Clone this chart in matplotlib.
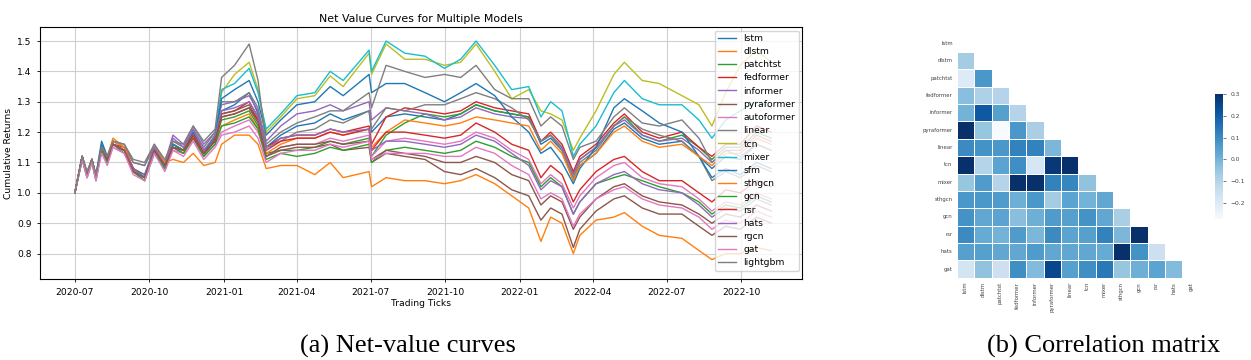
import numpy as np
import pandas as pd
import matplotlib
matplotlib.use("Agg")
import matplotlib.pyplot as plt
import matplotlib.dates as mdates
import seaborn as sns

# sample dates
dates = ['2020-07-01', '2020-07-10', '2020-07-16', '2020-07-22', '2020-07-27', '2020-08-03',
         '2020-08-10', '2020-08-17', '2020-08-31', '2020-09-11', '2020-09-25', '2020-10-07',
         '2020-10-20', '2020-10-30', '2020-11-12', '2020-11-24', '2020-12-07', '2020-12-21',
         '2020-12-29', '2021-01-14', '2021-02-01', '2021-02-12', '2021-02-22', '2021-03-12',
         '2021-04-01', '2021-04-23', '2021-05-12', '2021-05-28', '2021-06-29', '2021-07-02',
         '2021-07-20', '2021-08-12', '2021-09-06', '2021-09-30', '2021-10-20', '2021-11-08',
         '2021-12-01', '2021-12-22', '2022-01-12', '2022-01-27', '2022-02-08', '2022-02-22',
         '2022-03-08', '2022-03-16', '2022-04-05', '2022-04-27', '2022-05-10', '2022-06-01',
         '2022-06-22', '2022-07-20', '2022-08-10', '2022-08-26', '2022-09-12', '2022-09-30',
         '2022-10-20', '2022-11-07']

lstm = [1.00, 1.12, 1.06, 1.11, 1.05, 1.16, 1.11, 1.16, 1.14, 1.08, 1.05, 1.14, 1.08, 1.15, 1.13, 1.19, 1.12, 1.18,
        1.27, 1.29, 1.33, 1.26, 1.15, 1.19, 1.22, 1.23, 1.26, 1.24, 1.27, 1.20, 1.25, 1.26, 1.25, 1.24, 1.26, 1.29,
        1.27, 1.26, 1.25, 1.16, 1.18, 1.14, 1.04, 1.09, 1.13, 1.21, 1.23, 1.18, 1.16, 1.17, 1.12, 1.08, 1.12, 1.11, 1.16, 1.14]
dlstm = [1.00, 1.12, 1.06, 1.11, 1.05, 1.15, 1.12, 1.18, 1.15, 1.08, 1.05, 1.14, 1.10, 1.11, 1.10, 1.13, 1.09, 1.10,
         1.16, 1.19, 1.19, 1.16, 1.08, 1.09, 1.09, 1.06, 1.10, 1.05, 1.07, 1.02, 1.05, 1.04, 1.04, 1.03, 1.04, 1.06,
         1.03, 0.99, 0.95, 0.84, 0.92, 0.90, 0.80, 0.86, 0.91, 0.92, 0.935, 0.89, 0.86, 0.85, 0.81, 0.78, 0.80, 0.80, 0.82, 0.81]
patchtst = [1.00, 1.11, 1.06, 1.11, 1.05, 1.15, 1.11, 1.16, 1.14, 1.08, 1.05, 1.14, 1.09, 1.15, 1.13, 1.19, 1.13, 1.17,
            1.24, 1.25, 1.27, 1.22, 1.13, 1.14, 1.14, 1.15, 1.17, 1.16, 1.18, 1.12, 1.19, 1.23, 1.26, 1.25, 1.26, 1.29,
            1.27, 1.26, 1.25, 1.17, 1.19, 1.15, 1.06, 1.11, 1.15, 1.22, 1.25, 1.19, 1.17, 1.19, 1.15, 1.11, 1.15, 1.15, 1.20, 1.18]
fedformer = [1.00, 1.12, 1.06, 1.11, 1.05, 1.15, 1.11, 1.16, 1.15, 1.08, 1.05, 1.14, 1.09, 1.16, 1.14, 1.20, 1.14, 1.18,
             1.26, 1.27, 1.30, 1.25, 1.15, 1.18, 1.19, 1.19, 1.21, 1.20, 1.22, 1.16, 1.25, 1.28, 1.27, 1.26, 1.27, 1.30,
             1.28, 1.27, 1.26, 1.17, 1.20, 1.16, 1.07, 1.12, 1.16, 1.23, 1.26, 1.20, 1.18, 1.20, 1.15, 1.12, 1.16, 1.16, 1.22, 1.20]
informer = [1.00, 1.12, 1.06, 1.11, 1.05, 1.14, 1.11, 1.17, 1.15, 1.10, 1.09, 1.16, 1.10, 1.19, 1.16, 1.22, 1.16, 1.20,
            1.29, 1.30, 1.32, 1.27, 1.17, 1.22, 1.26, 1.27, 1.29, 1.27, 1.30, 1.24, 1.28, 1.27, 1.26, 1.24, 1.25, 1.28,
            1.26, 1.25, 1.245, 1.17, 1.19, 1.15, 1.06, 1.11, 1.15, 1.22, 1.24, 1.19, 1.17, 1.18, 1.14, 1.10, 1.14, 1.14, 1.19, 1.17]
pyraformer = [1.00, 1.12, 1.06, 1.11, 1.05, 1.15, 1.11, 1.16, 1.14, 1.07, 1.05, 1.14, 1.09, 1.16, 1.14, 1.19, 1.14, 1.18,
              1.26, 1.27, 1.29, 1.24, 1.12, 1.14, 1.15, 1.15, 1.16, 1.14, 1.15, 1.10, 1.13, 1.12, 1.11, 1.07, 1.06, 1.08,
              1.05, 1.01, 0.99, 0.91, 0.95, 0.93, 0.82, 0.88, 0.94, 0.98, 0.99, 0.95, 0.93, 0.93, 0.89, 0.86, 0.89, 0.88, 0.92, 0.90]
autoformer = [1.00, 1.11, 1.05, 1.10, 1.04, 1.14, 1.10, 1.15, 1.13, 1.07, 1.04, 1.13, 1.08, 1.14, 1.13, 1.18, 1.12, 1.16,
              1.20, 1.22, 1.24, 1.20, 1.12, 1.15, 1.16, 1.16, 1.18, 1.17, 1.19, 1.12, 1.17, 1.18, 1.17, 1.16, 1.17, 1.20,
              1.18, 1.14, 1.11, 1.03, 1.06, 1.03, 0.95, 0.99, 1.05, 1.09, 1.10, 1.05, 1.03, 1.02, 0.98, 0.94, 0.97, 0.96, 1.00, 0.98]
linear = [1.00, 1.12, 1.07, 1.11, 1.06, 1.15, 1.12, 1.17, 1.16, 1.10, 1.09, 1.15, 1.10, 1.17, 1.15, 1.21, 1.15, 1.20,
          1.30, 1.30, 1.33, 1.28, 1.15, 1.17, 1.20, 1.21, 1.24, 1.23, 1.27, 1.21, 1.28, 1.27, 1.29, 1.29, 1.31, 1.33,
          1.31, 1.28, 1.24, 1.17, 1.19, 1.14, 1.05, 1.10, 1.14, 1.22, 1.25, 1.21, 1.19, 1.17, 1.12, 1.04, 1.07, 1.05, 1.09, 1.07]
tcn = [1.00, 1.11, 1.05, 1.10, 1.04, 1.15, 1.10, 1.16, 1.14, 1.07, 1.05, 1.14, 1.08, 1.16, 1.14, 1.20, 1.13, 1.19,
       1.33, 1.39, 1.43, 1.34, 1.20, 1.25, 1.31, 1.32, 1.385, 1.35, 1.46, 1.39, 1.49, 1.44, 1.44, 1.42, 1.43, 1.49,
       1.40, 1.31, 1.34, 1.27, 1.26, 1.24, 1.14, 1.18, 1.27, 1.39, 1.43, 1.37, 1.36, 1.32, 1.29, 1.22, 1.33, 1.42, 1.47, 1.43]
mixer = [1.00, 1.11, 1.05, 1.10, 1.04, 1.15, 1.10, 1.16, 1.14, 1.07, 1.04, 1.14, 1.08, 1.16, 1.14, 1.20, 1.13, 1.19,
         1.34, 1.36, 1.41, 1.33, 1.21, 1.26, 1.32, 1.33, 1.40, 1.37, 1.47, 1.40, 1.50, 1.46, 1.45, 1.41, 1.44, 1.50,
         1.42, 1.34, 1.35, 1.25, 1.30, 1.27, 1.12, 1.16, 1.22, 1.33, 1.37, 1.31, 1.29, 1.29, 1.24, 1.18, 1.24, 1.27, 1.30, 1.28]
sfm = [1.00, 1.12, 1.06, 1.11, 1.06, 1.17, 1.12, 1.16, 1.14, 1.08, 1.06, 1.15, 1.09, 1.16, 1.14, 1.20, 1.13, 1.19,
       1.31, 1.34, 1.37, 1.30, 1.19, 1.24, 1.29, 1.30, 1.35, 1.32, 1.39, 1.33, 1.36, 1.36, 1.33, 1.30, 1.33, 1.36,
       1.32, 1.25, 1.20, 1.13, 1.15, 1.10, 1.03, 1.08, 1.15, 1.28, 1.31, 1.27, 1.23, 1.20, 1.12, 1.05, 1.08, 1.06, 1.10, 1.08]
sthgcn = [1.00, 1.12, 1.06, 1.11, 1.05, 1.15, 1.11, 1.17, 1.15, 1.08, 1.05, 1.15, 1.10, 1.15, 1.14, 1.19, 1.13, 1.17,
          1.22, 1.24, 1.26, 1.21, 1.13, 1.16, 1.18, 1.18, 1.20, 1.19, 1.21, 1.15, 1.20, 1.24, 1.23, 1.22, 1.23, 1.25,
          1.24, 1.23, 1.22, 1.14, 1.17, 1.13, 1.04, 1.09, 1.13, 1.20, 1.22, 1.17, 1.15, 1.16, 1.12, 1.09, 1.13, 1.13, 1.18, 1.16]
gcn = [1.00, 1.11, 1.06, 1.10, 1.05, 1.14, 1.10, 1.16, 1.13, 1.07, 1.04, 1.13, 1.08, 1.15, 1.13, 1.18, 1.12, 1.16,
       1.22, 1.23, 1.25, 1.21, 1.11, 1.13, 1.12, 1.13, 1.15, 1.14, 1.16, 1.10, 1.14, 1.15, 1.14, 1.13, 1.14, 1.17,
       1.15, 1.12, 1.10, 1.02, 1.05, 1.02, 0.93, 0.97, 1.03, 1.05, 1.06, 1.04, 1.02, 1.00, 0.97, 0.93, 0.96, 0.95, 0.99, 0.97]
rsr = [1.00, 1.12, 1.06, 1.11, 1.05, 1.15, 1.11, 1.16, 1.14, 1.08, 1.05, 1.14, 1.09, 1.15, 1.14, 1.19, 1.13, 1.17,
       1.25, 1.26, 1.28, 1.24, 1.14, 1.17, 1.18, 1.18, 1.20, 1.19, 1.21, 1.14, 1.20, 1.20, 1.19, 1.18, 1.19, 1.23,
       1.20, 1.16, 1.14, 1.05, 1.09, 1.06, 0.97, 1.01, 1.07, 1.11, 1.12, 1.07, 1.04, 1.04, 1.00, 0.97, 1.01, 1.00, 1.04, 1.02]
hats = [1.00, 1.12, 1.06, 1.11, 1.05, 1.15, 1.11, 1.16, 1.14, 1.08, 1.05, 1.15, 1.09, 1.18, 1.15, 1.21, 1.14, 1.19,
        1.27, 1.28, 1.30, 1.25, 1.14, 1.18, 1.19, 1.19, 1.21, 1.20, 1.21, 1.14, 1.17, 1.17, 1.16, 1.15, 1.16, 1.19,
        1.17, 1.13, 1.09, 1.01, 1.04, 1.02, 0.93, 0.97, 1.03, 1.06, 1.07, 1.03, 1.01, 1.00, 0.96, 0.92, 0.95, 0.94, 0.98, 0.96]
rgcn = [1.00, 1.12, 1.06, 1.11, 1.05, 1.15, 1.11, 1.16, 1.14, 1.07, 1.05, 1.14, 1.09, 1.15, 1.14, 1.18, 1.13, 1.17,
        1.25, 1.26, 1.28, 1.23, 1.12, 1.15, 1.16, 1.16, 1.17, 1.16, 1.17, 1.11, 1.14, 1.13, 1.12, 1.10, 1.10, 1.12,
        1.10, 1.06, 1.04, 0.96, 0.99, 0.97, 0.88, 0.92, 0.98, 1.02, 1.03, 0.99, 0.97, 0.96, 0.93, 0.90, 0.93, 0.92, 0.96, 0.94]
gat = [1.00, 1.11, 1.05, 1.10, 1.04, 1.13, 1.09, 1.15, 1.13, 1.06, 1.04, 1.13, 1.07, 1.14, 1.12, 1.17, 1.11, 1.15,
       1.19, 1.20, 1.22, 1.18, 1.10, 1.13, 1.14, 1.14, 1.16, 1.15, 1.17, 1.11, 1.13, 1.13, 1.13, 1.12, 1.12, 1.15,
       1.13, 1.09, 1.06, 0.98, 1.00, 0.98, 0.89, 0.93, 0.98, 1.01, 1.02, 0.98, 0.96, 0.95, 0.92, 0.88, 0.91, 0.90, 0.94, 0.92]
lightgbm = [1.00, 1.12, 1.07, 1.11, 1.06, 1.15, 1.12, 1.17, 1.16, 1.11, 1.10, 1.16, 1.11, 1.17, 1.16, 1.22, 1.17, 1.21,
            1.38, 1.42, 1.49, 1.37, 1.16, 1.20, 1.23, 1.25, 1.27, 1.27, 1.33, 1.28, 1.42, 1.40, 1.38, 1.39, 1.38, 1.42,
            1.34, 1.31, 1.31, 1.22, 1.25, 1.22, 1.11, 1.15, 1.17, 1.25, 1.28, 1.23, 1.22, 1.24, 1.18, 1.10, 1.14, 1.12, 1.16, 1.14]

model_names = ['lstm', 'dlstm', 'patchtst', 'fedformer', 'informer', 'pyraformer', 'autoformer', 'linear', 'tcn',
               'mixer', 'sfm', 'sthgcn', 'gcn', 'rsr', 'hats', 'rgcn', 'gat', 'lightgbm']
model_values = [lstm, dlstm, patchtst, fedformer, informer, pyraformer, autoformer, linear, tcn,
                mixer, sfm, sthgcn, gcn, rsr, hats, rgcn, gat, lightgbm]

# correlation matrix, lower triangle rows (row i holds columns 0..i-1)
corr_labels = ['lstm', 'dlstm', 'patchtst', 'fedformer', 'informer', 'pyraformer', 'linear',
               'tcn', 'mixer', 'sthgcn', 'gcn', 'rsr', 'hats', 'gat']
corr_rows = [
    [],
    [-0.07],
    [-0.20, 0.07],
    [-0.03, -0.09, -0.10],
    [0.00, 0.21, 0.05, -0.10],
    [0.32, -0.05, -0.275, 0.07, -0.08],
    [0.10, 0.08, 0.07, 0.12, 0.12, -0.01],
    [0.32, -0.10, 0.04, 0.09, -0.18, 0.28, 0.31],
    [-0.05, 0.06, -0.10, 0.32, 0.30, 0.12, 0.11, -0.04],
    [0.07, 0.07, 0.06, 0.01, 0.07, -0.07, 0.04, 0.00, 0.03],
    [0.08, 0.03, 0.04, -0.03, 0.01, 0.06, 0.05, 0.08, 0.03, -0.08],
    [0.10, 0.02, 0.00, 0.06, -0.01, 0.10, 0.04, 0.05, 0.12, -0.01, 0.33],
    [0.05, 0.05, 0.03, 0.03, 0.06, 0.03, 0.03, 0.03, 0.02, 0.32, 0.08, -0.15],
    [-0.17, -0.04, -0.15, 0.09, -0.02, 0.25, 0.05, 0.09, 0.14, -0.05, 0.01, 0.04, -0.02],
]


def main():
    fig = plt.figure(figsize=(12.51, 3.6), dpi=100)
    fs = 6.6

    # (a) net value curves
    ax = fig.add_axes([0.032, 0.224, 0.609, 0.700])
    x = pd.to_datetime(dates)
    for name, vals in zip(model_names, model_values):
        ax.plot(x, vals, linewidth=1.0, label=name)
    ax.set_xlim(pd.Timestamp('2020-05-19'), pd.Timestamp('2022-12-15'))
    ax.set_ylim(0.715, 1.545)
    ax.xaxis.set_major_locator(mdates.MonthLocator(bymonth=[1, 4, 7, 10]))
    ax.xaxis.set_major_formatter(mdates.DateFormatter('%Y-%m'))
    ax.set_yticks([0.8, 0.9, 1.0, 1.1, 1.2, 1.3, 1.4, 1.5])
    ax.tick_params(labelsize=fs, length=2.5, width=0.6)
    ax.grid(True, color='#d0d0d0', linewidth=0.8)
    ax.set_xlabel('Trading Ticks', fontsize=fs, labelpad=2)
    ax.set_ylabel('Cumulative Returns', fontsize=fs, labelpad=3)
    ax.set_title('Net Value Curves for Multiple Models', fontsize=7.9, pad=4)
    ax.legend(loc='upper right', fontsize=fs, handlelength=2.0, labelspacing=0.46,
              borderaxespad=0.35, borderpad=0.35)

    # (b) correlation matrix
    n = len(corr_labels)
    corr = np.zeros((n, n))
    for i, row in enumerate(corr_rows):
        for j, v in enumerate(row):
            corr[i, j] = v
            corr[j, i] = v
    mask = np.triu(np.ones((n, n), dtype=bool))
    hax = fig.add_axes([0.7647, 0.2286, 0.1945, 0.675])
    cax = fig.add_axes([0.9712, 0.3917, 0.0062, 0.347])
    sns.heatmap(corr, mask=mask, cmap='Blues', vmax=0.3, square=True, linewidths=0.5,
                xticklabels=corr_labels, yticklabels=corr_labels, ax=hax, cbar_ax=cax)
    hax.tick_params(length=0, labelsize=3.9, labelcolor='#444444', pad=3)
    plt.setp(hax.get_xticklabels(), rotation=90)
    plt.setp(hax.get_yticklabels(), rotation=0)
    cax.tick_params(labelsize=4.3, length=2, width=0.5, labelcolor='#444444', color='#444444')
    cax.set_yticks([-0.2, -0.1, 0.0, 0.1, 0.2, 0.3])

    # sub-captions
    fig.text(0.326, 0.022, '(a) Net-value curves', fontsize=19, family='Liberation Serif', ha='center')
    fig.text(0.8825, 0.022, '(b) Correlation matrix', fontsize=19, family='Liberation Serif', ha='center')

    fig.savefig('out.png', dpi=100)


if __name__ == '__main__':
    main()
